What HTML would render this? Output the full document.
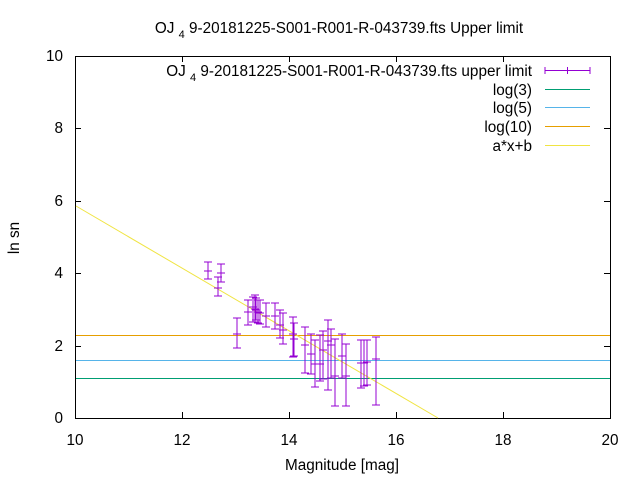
<!DOCTYPE html>
<html><head><meta charset="utf-8"><style>
html,body{margin:0;padding:0;background:#fff}
svg{display:block}
text{font-family:"Liberation Sans",sans-serif;font-size:15.3px;fill:#000}
</style></head><body>
<svg width="640" height="480" viewBox="0 0 640 480" xmlns="http://www.w3.org/2000/svg">
<rect width="640" height="480" fill="#fff"/>
<text x="339" y="33" text-anchor="middle">OJ <tspan font-size="11" dy="5">4</tspan><tspan dy="-5"> 9-20181225-S001-R001-R-043739.fts Upper limit</tspan></text>
<g stroke="#000" stroke-width="1" fill="none">
<rect x="75.5" y="56.5" width="535" height="362"/>
<path d="M75 346.5h6M75 273.5h6M75 201.5h6M75 128.5h6M610 346.5h-6M610 273.5h-6M610 201.5h-6M610 128.5h-6"/>
<path d="M182.5 418v-6M289.5 418v-6M396.5 418v-6M503.5 418v-6M182.5 56v6M289.5 56v6M396.5 56v6M503.5 56v6"/>
</g>
<g text-anchor="end">
<text x="63" y="423">0</text><text x="63" y="351">2</text><text x="63" y="278">4</text>
<text x="63" y="206">6</text><text x="63" y="133">8</text><text x="63" y="61">10</text>
</g>
<g text-anchor="middle">
<text x="75" y="445">10</text><text x="182" y="445">12</text><text x="289" y="445">14</text>
<text x="396" y="445">16</text><text x="503" y="445">18</text><text x="610" y="445">20</text>
<text x="342" y="470">Magnitude [mag]</text>
<text transform="translate(19,238) rotate(-90)">ln sn</text>
</g>
<g stroke-width="1">
<line x1="76" y1="378.5" x2="610" y2="378.5" stroke="#009e73"/>
<line x1="76" y1="360.5" x2="610" y2="360.5" stroke="#56b4e9"/>
<line x1="76" y1="335.5" x2="610" y2="335.5" stroke="#e69f00"/>
<line x1="76" y1="206" x2="438" y2="418" stroke="#f0e442"/>
</g>
<g text-anchor="end">
<text x="532" y="76">OJ <tspan font-size="11" dy="5">4</tspan><tspan dy="-5"> 9-20181225-S001-R001-R-043739.fts upper limit</tspan></text>
<text x="532" y="95">log(3)</text>
<text x="532" y="113">log(5)</text>
<text x="532" y="132">log(10)</text>
<text x="532" y="151">a*x+b</text>
</g>
<g stroke-width="1">
<path d="M545 70.5h45M545 67v7M590 67v7M567.5 67v7" stroke="#9400d3"/>
<line x1="545" y1="89.5" x2="590" y2="89.5" stroke="#009e73"/>
<line x1="545" y1="107.5" x2="590" y2="107.5" stroke="#56b4e9"/>
<line x1="545" y1="126.5" x2="590" y2="126.5" stroke="#e69f00"/>
<line x1="545" y1="145.5" x2="590" y2="145.5" stroke="#f0e442"/>
</g>
<g stroke="#9400d3" stroke-width="1" fill="none">
<path d="M208 262v17M204 262h8M204 279h8M204 271h8"/>
<path d="M221 264v18M217 264h8M217 282h8M217 273h8"/>
<path d="M218 277v19M214 277h8M214 296h8M214 288h8"/>
<path d="M237 318v30M233 318h8M233 348h8M233 334h8"/>
<path d="M248 300v25M244 300h8M244 325h8M244 312h8"/>
<path d="M253 297v25M249 297h8M249 322h8M249 307h8"/>
<path d="M255 295v27M251 295h8M251 322h8M251 309h8"/>
<path d="M256 298v22M252 298h8M252 320h8M252 310h8"/>
<path d="M258 300v23M254 300h8M254 323h8M254 312h8"/>
<path d="M260 300v24M256 300h8M256 324h8M256 313h8"/>
<path d="M266 303v24M262 303h8M262 327h8M262 316h8"/>
<path d="M275 303v26M271 303h8M271 329h8M271 316h8"/>
<path d="M280 310v28M276 310h8M276 338h8M276 325h8"/>
<path d="M283 313v31M279 313h8M279 344h8M279 330h8"/>
<path d="M293 317v40M289 317h8M289 357h8M289 334h8"/>
<path d="M294 323v33M290 323h8M290 356h8M290 339h8"/>
<path d="M305 327v46M301 327h8M301 373h8M301 345h8"/>
<path d="M311 334v40M307 334h8M307 374h8M307 354h8"/>
<path d="M315 340v47M311 340h8M311 387h8M311 364h8"/>
<path d="M320 335v46M316 335h8M316 381h8M316 364h8"/>
<path d="M323 331v48M319 331h8M319 379h8M319 350h8"/>
<path d="M328 320v70M324 320h8M324 390h8M324 341h8"/>
<path d="M331 329v49M327 329h8M327 378h8M327 345h8"/>
<path d="M335 339v67M331 339h8M331 406h8M331 376h8"/>
<path d="M342 334v44M338 334h8M338 378h8M338 356h8"/>
<path d="M346 344v62M342 344h8M342 406h8M342 376h8"/>
<path d="M361 340v48M357 340h8M357 388h8M357 363h8"/>
<path d="M364 340v46M360 340h8M360 386h8M360 363h8"/>
<path d="M367 340v45M363 340h8M363 385h8M363 362h8"/>
<path d="M376 337v68M372 337h8M372 405h8M372 359h8"/>
</g>
</svg>
</body></html>
